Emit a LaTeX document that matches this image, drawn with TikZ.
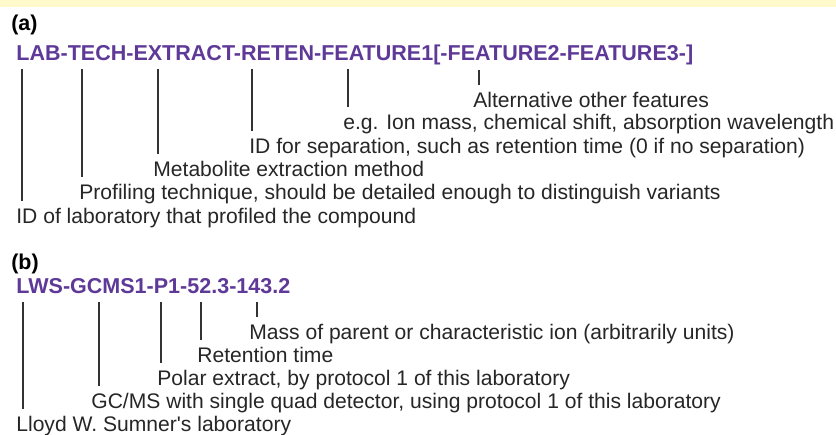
\documentclass[tikz,border=0pt]{standalone}
\usepackage{fontspec}
\setmainfont{Liberation Sans}[Ligatures=TeXOff]
\usepackage{tikz}

\definecolor{bandyellow}{RGB}{255,249,204}
\definecolor{codepurple}{RGB}{94,57,151}

\begin{document}
\begin{tikzpicture}[
    every node/.style={inner xsep=0pt, inner ysep=3.5pt, anchor=base west,
                       font=\fontsize{12.0}{14.5}\selectfont},
    panel/.style={font=\fontsize{12.2}{14.5}\selectfont\bfseries, text=black},
    code/.style={font=\fontsize{12.25}{14.5}\selectfont\bfseries, text=codepurple},
    desc/.style={text=black!85},
    tick/.style={line width=0.6pt, black!80}]

\useasboundingbox (0,0) rectangle (16.72,8.68);
\fill[bandyellow] (0,8.54) rectangle (16.72,8.68);

% (a) general form of the name

 \node[panel] (pa) at (0.22,8.08) {(a)};
 \node[code] (codeA) at (0.32,7.48) {LAB-TECH-EXTRACT-RETEN-FEATURE1[-FEATURE2-FEATURE3-]};

\coordinate (a1) at (0.44,7.30);
\coordinate (a2) at (1.64,7.30);
\coordinate (a3) at (3.16,7.30);
\coordinate (a4) at (5.04,7.30);
\coordinate (a5) at (6.96,7.30);
\coordinate (a6) at (9.58,7.28);

 \node[desc] (featAlt) at (9.46,6.54) {Alternative other features};
 \node[desc] (featOne) at (6.86,6.10) {e.g. Ion mass, chemical shift, absorption wavelength};
 \node[desc] (reten) at (4.98,5.62) {ID for separation, such as retention time (0 if no separation)};
 \node[desc] (extract) at (3.06,5.16) {Metabolite extraction method};
 \node[desc] (tech) at (1.58,4.70) {Profiling technique, should be detailed enough to distinguish variants};
 \node[desc] (lab) at (0.32,4.22) {ID of laboratory that profiled the compound};

\draw[tick] (a1) -- (a1 |- lab.north);
\draw[tick] (a2) -- (a2 |- tech.north);
\draw[tick] (a3) -- (a3 |- extract.north);
\draw[tick] (a4) -- (a4 |- reten.north);
\draw[tick] (a5) -- (a5 |- featOne.north);
\draw[tick] (a6) -- (a6 |- featAlt.north);

% (b) an example name

 \node[panel] (pb) at (0.22,3.30) {(b)};
 \node[code] (codeB) at (0.32,2.82) {LWS-GCMS1-P1-52.3-143.2};

\coordinate (b1) at (0.46,2.64);
\coordinate (b2) at (1.98,2.64);
\coordinate (b3) at (3.22,2.64);
\coordinate (b4) at (4.02,2.64);
\coordinate (b5) at (5.14,2.64);

 \node[desc] (mass) at (4.98,1.90) {Mass of parent or characteristic ion (arbitrarily units)};
 \node[desc] (rtime) at (3.94,1.44) {Retention time};
 \node[desc] (polar) at (3.14,0.98) {Polar extract, by protocol 1 of this laboratory};
 \node[desc] (gcms) at (1.82,0.52) {GC/MS with single quad detector, using protocol 1 of this laboratory};
 \node[desc] (lws) at (0.32,0.06) {Lloyd W. Sumner's laboratory};

\draw[tick] (b1) -- (b1 |- lws.north);
\draw[tick] (b2) -- (b2 |- gcms.north);
\draw[tick] (b3) -- (b3 |- polar.north);
\draw[tick] (b4) -- (b4 |- rtime.north);
\draw[tick] (b5) -- (b5 |- mass.north);

\end{tikzpicture}
\end{document}
